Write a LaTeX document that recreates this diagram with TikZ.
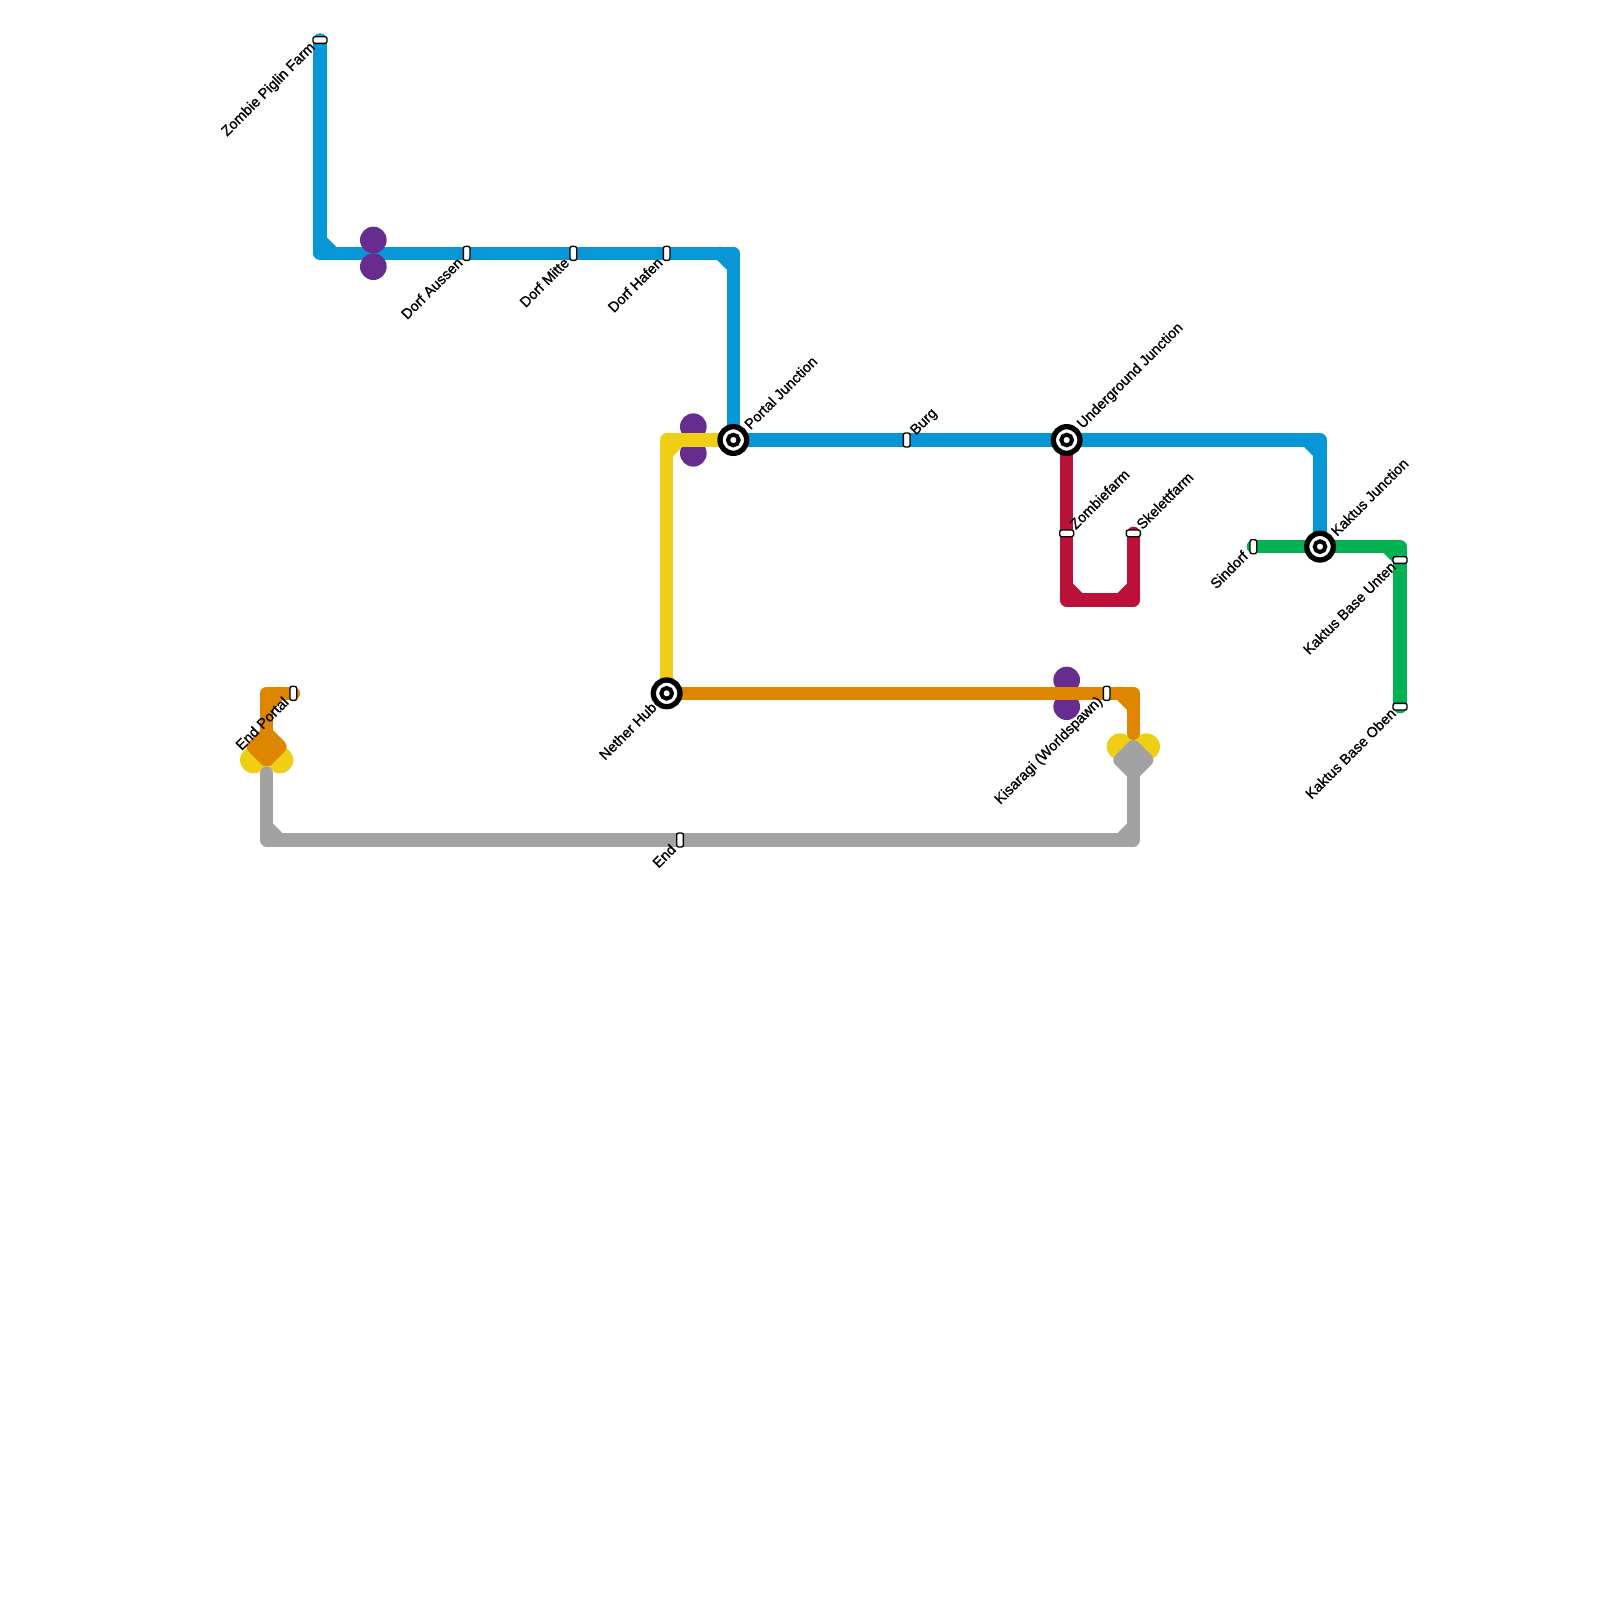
\documentclass[tikz,border=0pt]{standalone}
\usepackage{fontspec}
\setmainfont{Liberation Sans}[FakeBold=1.2]
\usepackage{xcolor}
\definecolor{lblue}{HTML}{0896D7}
\definecolor{lyellow}{HTML}{F0CE15}
\definecolor{lorange}{HTML}{DF8600}
\definecolor{lgray}{HTML}{A2A2A2}
\definecolor{lred}{HTML}{BD1038}
\definecolor{lgreen}{HTML}{00B251}
\definecolor{lpurple}{HTML}{662C90}

\begin{document}
\begin{tikzpicture}[x=10bp, y=-10bp, font=\fontsize{10.85bp}{12bp}\selectfont,
  route/.style={draw=#1, line width=10bp, line cap=round, line join=round},
  blob/.style={circle, fill=#1, minimum size=20bp, inner sep=0pt},
  plate/.style={route=#1, fill=#1, line width=10bp},
  hstn/.style={draw=black, fill=white, line width=1bp, rounded corners=1.5bp, minimum width=5bp, minimum height=10.5bp, inner sep=0pt, outer sep=0pt},
  vstn/.style={draw=black, fill=white, line width=1bp, rounded corners=1.5bp, minimum width=10.5bp, minimum height=5bp, inner sep=0pt, outer sep=0pt},
  xstn/.style={circle, draw=black, fill=white, line width=4bp, minimum size=20bp, inner sep=0pt, outer sep=0pt},
  xdot/.style={circle, draw=black, fill=white, line width=3bp, minimum size=8bp, inner sep=0pt, outer sep=0pt},
  tagup/.style={rotate=45, anchor=west, inner sep=0pt},
  tagdn/.style={rotate=45, anchor=east, inner sep=0pt}]
\useasboundingbox (0,0) rectangle (120,120);
% free ends and bends
\coordinate (blueb) at (24,19); \coordinate (bluec) at (55,19);
\coordinate (blued) at (99,33);
\coordinate (orangea) at (20,52); \coordinate (orangeb) at (85,52);
\coordinate (graya) at (20,63); \coordinate (grayb) at (85,63);
\coordinate (yellowa) at (50,33);
\coordinate (reda) at (80,45); \coordinate (redb) at (85,45);
\coordinate (greena) at (105,41);
% transfer blobs
\node[blob=lpurple] (tfc) at (52,32) {};
\node[blob=lpurple] (tfd) at (52,34) {};
\node[blob=lpurple] (tfe) at (80,51) {};
\node[blob=lpurple] (tff) at (80,53) {};
\node[blob=lyellow] (tfg) at (19,57) {};
\node[blob=lyellow] (tfh) at (21,57) {};
\node[blob=lyellow] (tfi) at (84,56) {};
\node[blob=lyellow] (tfj) at (86,56) {};
% stations
\node[inner sep=0pt] (portal) at (55,33) {};
\node[inner sep=0pt] (under) at (80,33) {};
\node[inner sep=0pt] (kaktus) at (99,41) {};
\node[inner sep=0pt] (nether) at (50,52) {};
\node[inner sep=0pt] (zombie) at (24,3) {};
\node[inner sep=0pt] (aussen) at (35,19) {};
\node[inner sep=0pt] (mitte) at (43,19) {};
\node[inner sep=0pt] (hafen) at (50,19) {};
\node[inner sep=0pt] (burg) at (68,33) {};
\node[inner sep=0pt] (zfarm) at (80,40) {};
\node[inner sep=0pt] (sfarm) at (85,40) {};
\node[inner sep=0pt] (sindorf) at (94,41) {};
\node[inner sep=0pt] (unten) at (105,42) {};
\node[inner sep=0pt] (oben) at (105,53) {};
\node[inner sep=0pt] (kisa) at (83,52) {};
\node[inner sep=0pt] (endp) at (22,52) {};
\node[inner sep=0pt] (endst) at (51,63) {};
% lines
\draw[route=lblue] (zombie.center) -- (blueb) -- (bluec) -- (portal.center) -- (blued) -- (kaktus.center);
\draw[route=lblue] (24,18) -- (25,19) (54,19) -- (55,20) (98,33) -- (99,34);
\node[blob=lpurple] (tfa) at (28,18) {};
\node[blob=lpurple] (tfb) at (28,20) {};
\draw[route=lyellow] (nether.center) -- (yellowa) -- (portal.center);
\draw[route=lyellow] (50,34) -- (51,33);
\draw[route=lred] (under.center) -- (reda) -- (redb) -- (sfarm.center);
\draw[route=lred] (80,44) -- (81,45) (84,45) -- (85,44);
\draw[route=lgreen] (sindorf.center) -- (greena) -- (oben.center);
\draw[route=lgreen] (104,41) -- (105,42);
\draw[route=lorange] (nether.center) -- (orangeb) -- (85,55);
\draw[route=lorange] (84,52) -- (85,53);
\draw[route=lorange] (endp.center) -- (orangea) -- (20,56);
\draw[route=lorange] (20,53) -- (21,52);
\draw[route=lgray] (20,58) -- (graya) -- (grayb) -- (85,57);
\draw[route=lgray] (20,62) -- (21,63) (84,63) -- (85,62);
\draw[plate=lorange] (19,56) -- (20,55) -- (21,56) -- (20,57) -- cycle;
\draw[plate=lgray] (84,57) -- (85,56) -- (86,57) -- (85,58) -- cycle;
% markers
\foreach \n in {portal,under,kaktus,nether} {
  \node[xstn] at (\n) {};
  \node[xdot] at (\n) {};
}
\foreach \n in {aussen,mitte,hafen,burg,kisa,sindorf,endp,endst}
  \node[hstn] at (\n) {};
\foreach \n in {zombie,zfarm,sfarm,unten,oben}
  \node[vstn] at (\n) {};
% labels
\node[tagup] at ([shift={(1.0,-1.0)}]portal) {Portal Junction};
\node[tagup] at ([shift={(1.0,-1.0)}]under) {Underground Junction};
\node[tagup] at ([shift={(1.0,-1.0)}]kaktus) {Kaktus Junction};
\node[tagup] at ([shift={(0.5,-0.5)}]burg) {Burg};
\node[tagup] at ([shift={(0.4,-0.5)}]zfarm) {Zombiefarm};
\node[tagup] at ([shift={(0.4,-0.5)}]sfarm) {Skelettfarm};
\node[tagdn] at ([shift={(-0.95,0.85)}]nether) {Nether Hub};
\node[tagdn] at ([shift={(-0.5,0.4)}]zombie) {Zombie Piglin Farm};
\node[tagdn] at ([shift={(-0.5,0.5)}]aussen) {Dorf Aussen};
\node[tagdn] at ([shift={(-0.5,0.5)}]mitte) {Dorf Mitte};
\node[tagdn] at ([shift={(-0.5,0.5)}]hafen) {Dorf Hafen};
\node[tagdn] at ([shift={(-0.45,0.45)}]kisa) {Kisaragi (Worldspawn)};
\node[tagdn] at ([shift={(-0.55,0.45)}]endp) {End Portal};
\node[tagdn] at ([shift={(-0.5,0.5)}]endst) {End};
\node[tagdn] at ([shift={(-0.6,0.5)}]sindorf) {Sindorf};
\node[tagdn] at ([shift={(-0.5,0.3)}]unten) {Kaktus Base Unten};
\node[tagdn] at ([shift={(-0.5,0.3)}]oben) {Kaktus Base Oben};
\end{tikzpicture}
\end{document}
